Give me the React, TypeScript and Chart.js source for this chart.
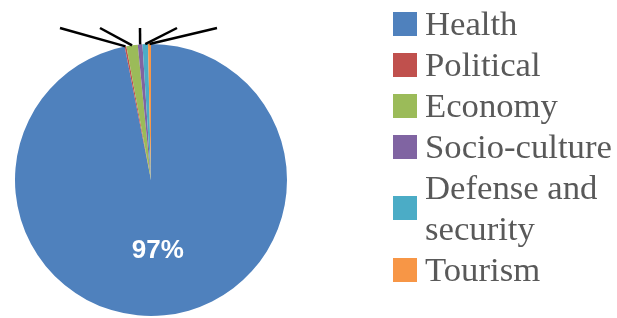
import React, { useEffect, useRef } from "react";
import { Chart, registerables } from "chart.js";

Chart.register(...registerables);

const categories = ["Health", "Political", "Economy", "Socio-culture", "Defense and security", "Tourism"];
const values = [96.9, 0.2, 1.35, 0.55, 0.65, 0.35];
const colors = ["#4F81BD", "#C0504D", "#9BBB59", "#8064A2", "#4BACC6", "#F79646"];

// horizontal offsets (px, from pie centre) of the off-canvas data-label anchors
const leaderEndOffsets: (number | null)[] = [null, -91, -51, -11, 26, 66];

const LEGEND_X = 393;
const LEGEND_TEXT_X = 425;
const LEGEND_FIRST_BASELINE = 35;
const LEGEND_LINE_H = 41;
const LEGEND_MAX_W = 195;
const LEGEND_FONT = '34.7px "Liberation Serif", "DejaVu Serif", serif';

function wrap(ctx: CanvasRenderingContext2D, text: string, maxW: number): string[] {
  const words = text.split(" ");
  const lines: string[] = [];
  let cur = "";
  for (const w of words) {
    const t = cur ? cur + " " + w : w;
    if (cur && ctx.measureText(t).width > maxW) {
      lines.push(cur);
      cur = w;
    } else cur = t;
  }
  if (cur) lines.push(cur);
  return lines;
}

const decorPlugin = {
  id: "decor",
  afterDatasetsDraw(chart: any) {
    const ctx: CanvasRenderingContext2D = chart.ctx;
    const meta = chart.getDatasetMeta(0);
    const total = values.reduce((a, b) => a + b, 0);
    meta.data.forEach((arc: any, i: number) => {
      const p = arc.getProps(["x", "y", "startAngle", "endAngle", "outerRadius"], true);
      const mid = (p.startAngle + p.endAngle) / 2;
      const share = values[i] / total;
      if (share > 0.1) {
        const r = p.outerRadius * 0.52;
        ctx.save();
        ctx.fillStyle = "#ffffff";
        ctx.font = 'bold 26px "Liberation Sans", Arial, sans-serif';
        ctx.textAlign = "center";
        ctx.textBaseline = "middle";
        ctx.fillText(Math.round(share * 100) + "%", p.x + Math.cos(mid) * r, p.y + Math.sin(mid) * r);
        ctx.restore();
      } else {
        const off = leaderEndOffsets[i];
        if (off == null) return;
        const sx = p.x + Math.cos(mid) * p.outerRadius;
        const sy = p.y + Math.sin(mid) * p.outerRadius;
        const ex = p.x + off;
        const ey = p.y - p.outerRadius - 16;
        ctx.save();
        ctx.strokeStyle = "#000000";
        ctx.lineWidth = 2.5;
        ctx.beginPath();
        ctx.moveTo(sx, sy);
        ctx.lineTo(ex, ey);
        ctx.stroke();
        ctx.restore();
      }
    });
  },
  afterDraw(chart: any) {
    const ctx: CanvasRenderingContext2D = chart.ctx;
    ctx.save();
    ctx.font = LEGEND_FONT;
    ctx.textBaseline = "alphabetic";
    ctx.textAlign = "left";
    let baseline = LEGEND_FIRST_BASELINE;
    categories.forEach((c, i) => {
      const lines = wrap(ctx, c, LEGEND_MAX_W);
      const blockTop = baseline - 23;
      const blockBottom = baseline + (lines.length - 1) * LEGEND_LINE_H;
      const midY = (blockTop + blockBottom) / 2;
      ctx.fillStyle = colors[i];
      ctx.fillRect(LEGEND_X, Math.round(midY - 12), 24, 24);
      ctx.fillStyle = "#595959";
      lines.forEach((ln, k) => {
        ctx.fillText(ln, LEGEND_TEXT_X, baseline + k * LEGEND_LINE_H);
      });
      baseline += lines.length * LEGEND_LINE_H;
    });
    ctx.restore();
  },
};

export default function App() {
  const ref = useRef<HTMLCanvasElement | null>(null);
  useEffect(() => {
    document.body.style.margin = "0";
    if (!ref.current) return;
    const chart = new Chart(ref.current, {
      type: "pie",
      data: {
        labels: categories,
        datasets: [
          {
            data: values,
            backgroundColor: colors,
            borderWidth: 0,
          },
        ],
      },
      options: {
        responsive: false,
        animation: false,
        devicePixelRatio: 1,
        layout: { padding: { left: 15, top: 44, right: 330, bottom: 2 } },
        plugins: {
          legend: { display: false },
          tooltip: { enabled: false },
        },
      },
      plugins: [decorPlugin],
    });
    return () => chart.destroy();
  }, []);
  return (
    <div style={{ position: "absolute", left: 0, top: 0, width: 617, height: 318, background: "#fff" }}>
      <canvas ref={ref} width={617} height={318} style={{ display: "block" }} />
    </div>
  );
}
